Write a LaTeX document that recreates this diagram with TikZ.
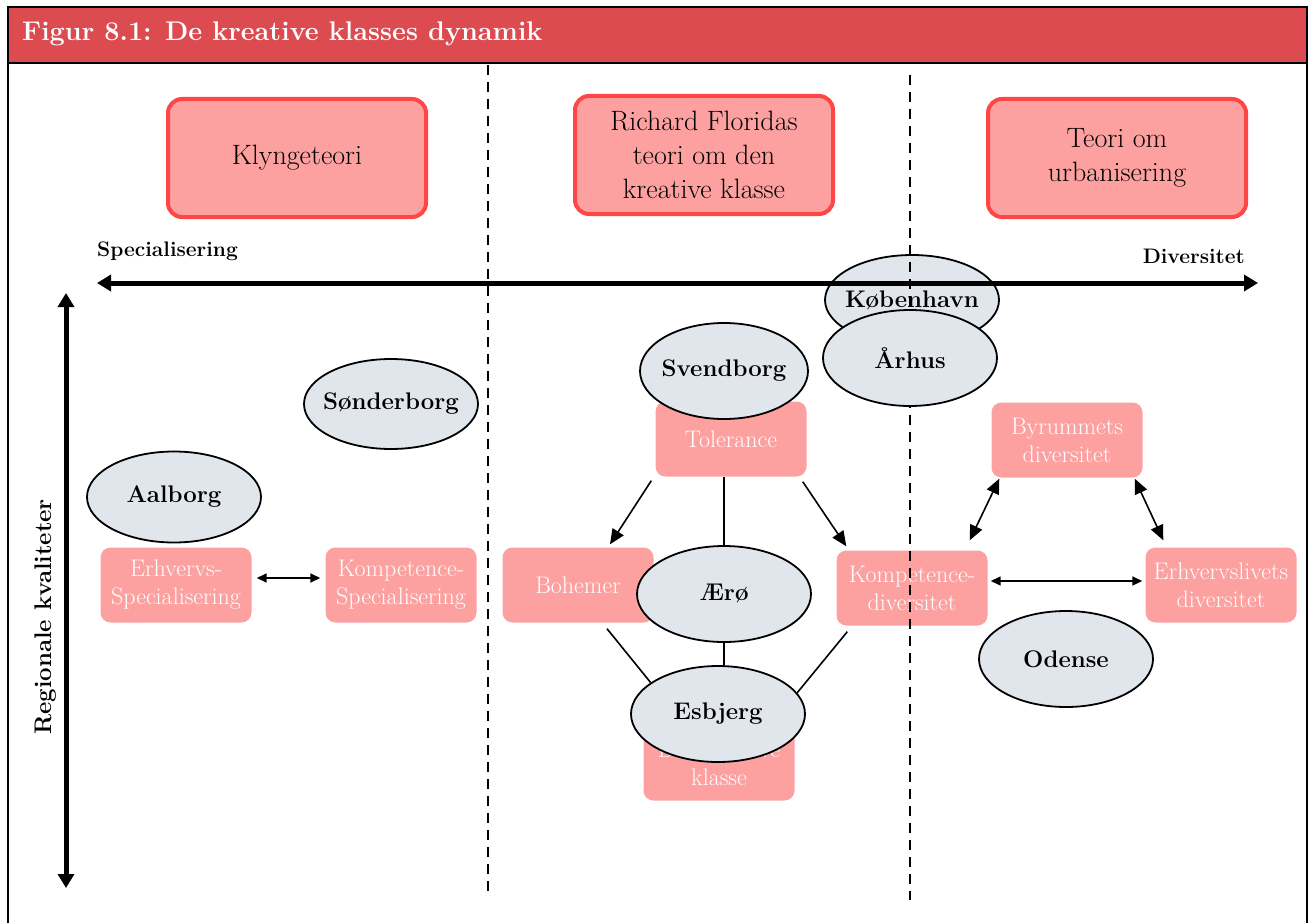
\documentclass[tikz,border=0pt]{standalone}
\usepackage{fontspec}
\usepackage{tikz}
\usetikzlibrary{arrows.meta, positioning, shapes, calc}

\definecolor{titlered}{RGB}{220,75,80}
\definecolor{boxpink}{RGB}{252,160,160}
\definecolor{boxline}{RGB}{255,70,70}
\definecolor{cityfill}{RGB}{225,230,237}

\begin{document}
\begin{tikzpicture}[
    x=1pt, y=-1pt,
    theory/.style={rectangle, rounded corners=14pt, draw=boxline, line width=4pt, fill=boxpink, minimum width=258pt, minimum height=118pt, align=center, font=\fontsize{28}{34}\selectfont},
    factor/.style={rectangle, rounded corners=10pt, fill=boxpink, text=white, minimum width=151pt, minimum height=75pt, inner sep=1pt, align=center, font=\fontsize{24}{28}\selectfont},
    city/.style={ellipse, draw, line width=1.8pt, fill=cityfill, minimum width=174pt, minimum height=96pt, inner sep=0pt, inner xsep=-25pt, font=\fontsize{24}{28}\selectfont\bfseries},
    axislabel/.style={inner sep=0pt, font=\fontsize{21}{24}\selectfont\bfseries},
    link/.style={line width=1.6pt},
    arr/.style={line width=1.6pt, -{Triangle[length=15pt,width=13pt]}},
    dbl/.style={line width=1.6pt, {Triangle[length=15pt,width=13pt]}-{Triangle[length=15pt,width=13pt]}},
    dblsmall/.style={line width=1.6pt, {Triangle[length=10pt,width=9pt]}-{Triangle[length=10pt,width=9pt]}},
    axis/.style={line width=5pt, {Triangle[length=14pt,width=16pt]}-{Triangle[length=14pt,width=16pt]}},
    divider/.style={line width=2pt, dash pattern=on 10pt off 7pt}
    ]
    \useasboundingbox (0,0) rectangle (1313,923);

    % Title bar and frame
    \fill[titlered] (8,7) rectangle (1307,63);
    \draw[line width=2pt] (8,923) -- (8,7) -- (1307,7) -- (1307,923);
    \draw[line width=2.5pt] (8,63) -- (1307,63);
    \node[anchor=base west, inner sep=0pt, text=white, font=\fontsize{27}{30}\selectfont\bfseries] (title) at (22,41) {Figur 8.1: De kreative klasses dynamik};

    % Theories
    \node[theory] (klynge) at (297,158) {Klyngeteori};
    \node[theory] (florida) at (704,155) {Richard Floridas\\teori om den\\kreative klasse};
    \node[theory] (urban) at (1117,158) {Teori om\\urbanisering};

    % Axis labels
    \node[axislabel, anchor=base west] (spec) at (97,256) {Specialisering};
    \node[axislabel, anchor=base east] (div) at (1245,263) {Diversitet};
    \node[axislabel, font=\fontsize{24}{28}\selectfont\bfseries, rotate=90] (regq) at (46,617) {Regionale kvaliteter};

    % Regional qualities
    \node[factor] (tol) at (731,439) {Tolerance};
    \node[factor] (boh) at (578,585) {Bohemer};
    \node[factor] (kompdiv) at (912,588) {Kompetence-\\diversitet};
    \node[factor] (kreativ) at (719,763) {Den kreative\\klasse};
    \node[factor] (byrum) at (1067,440) {Byrummets\\diversitet};
    \node[factor] (erhdiv) at (1221,585) {Erhvervslivets\\diversitet};
    \node[factor] (erhspec) at (176,585) {Erhvervs-\\Specialisering};
    \node[factor] (kompspec) at (401,585) {Kompetence-\\Specialisering};

    % Copenhagen sits under the axis
    \node[city, minimum height=90pt] (kbh) at (912,300) {København};

    % Axes
    \coordinate (xl) at (97,283);
    \coordinate (xr) at (1258,283);
    \coordinate (yt) at (66,293);
    \coordinate (yb) at (66,888);
    \draw[axis] (xl) -- (xr);
    \draw[axis] (yt) -- (yb);

    % Dividers
    \coordinate (d1t) at (488,65);
    \coordinate (d1b) at (488,898);
    \coordinate (d2t) at (910,75);
    \coordinate (d2b) at (910,900);
    \draw[divider] (d1t) -- (d1b);
    \draw[divider] (d2t) -- (d2b);

    % Cities
    \node[city] (aarhus) at (910,358) {Århus};
    \node[city, minimum width=168pt] (svend) at (724,371) {Svendborg};
    \node[city, minimum height=90pt] (sonder) at (391,404) {Sønderborg};
    \node[city, minimum height=91pt] (aalborg) at (174,497) {Aalborg};
    \node[city] (aero) at (724,594) {Ærø};
    \node[city] (esb) at (718,714) {Esbjerg};
    \node[city] (odense) at (1066,659) {Odense};

    % Creative class dynamics
    \draw[arr] ($(tol.south west)+(-4,4)$) -- ($(boh.north)+(32,-3)$);
    \draw[arr] ($(tol.south east)+(-4,5)$) -- ($(kompdiv.north west)+(10,-4)$);
    \draw[link] (aero.north) -- (aero.north |- tol.south);
    \draw[link] (aero.south) -- (aero.south |- esb.north);
    \draw[link] ($(boh.south)+(29,6)$) -- (esb.155);
    \draw[link] ($(kompdiv.south west)+(11,6)$) -- (esb.15);

    % Urbanisation
    \draw[dblsmall] ($(kompdiv.east)+(3,-7)$) -- ($(erhdiv.west)+(-3,-4)$);
    \draw[dbl] ($(kompdiv.north east)+(-18,-10)$) -- ($(byrum.south west)+(8,1)$);
    \draw[dbl] ($(byrum.south east)+(-8,1)$) -- ($(erhdiv.north west)+(18,-7)$);

    % Cluster theory
    \draw[dblsmall] ($(erhspec.east)+(5,-7)$) -- ($(kompspec.west)+(-5,-7)$);

\end{tikzpicture}
\end{document}
